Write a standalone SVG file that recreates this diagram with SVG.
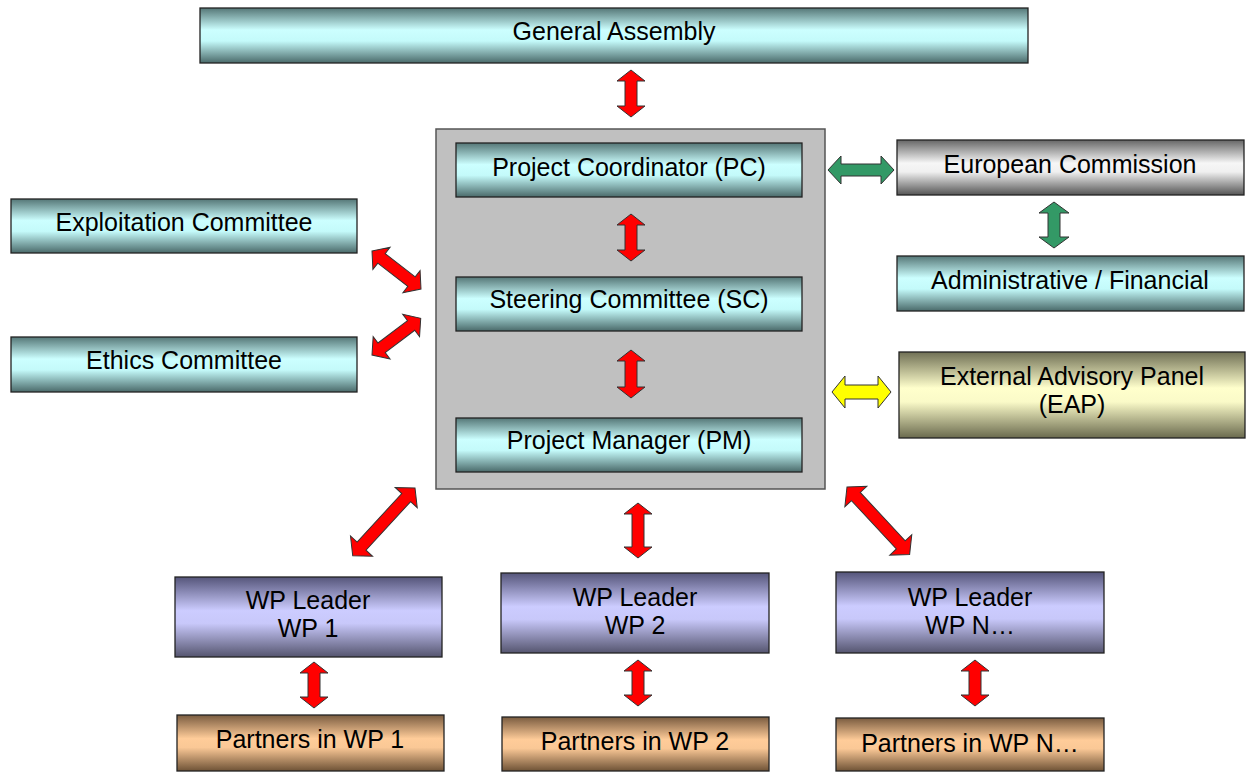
<svg xmlns="http://www.w3.org/2000/svg" width="1247" height="772" viewBox="0 0 1247 772">
<defs>
<linearGradient id="gCyan" x1="0" y1="0" x2="0" y2="1">
<stop offset="0" stop-color="#557777"/><stop offset="0.4" stop-color="#ccffff"/><stop offset="0.6" stop-color="#c4fafa"/><stop offset="1" stop-color="#4a6a6a"/>
</linearGradient>
<linearGradient id="gPurple" x1="0" y1="0" x2="0" y2="1">
<stop offset="0" stop-color="#55557a"/><stop offset="0.42" stop-color="#ccccff"/><stop offset="0.58" stop-color="#c8c8fa"/><stop offset="1" stop-color="#55556f"/>
</linearGradient>
<linearGradient id="gOrange" x1="0" y1="0" x2="0" y2="1">
<stop offset="0" stop-color="#7a5c40"/><stop offset="0.42" stop-color="#ffcc99"/><stop offset="0.58" stop-color="#fac896"/><stop offset="1" stop-color="#6e5236"/>
</linearGradient>
<linearGradient id="gOlive" x1="0" y1="0" x2="0" y2="1">
<stop offset="0" stop-color="#707055"/><stop offset="0.42" stop-color="#ffffcc"/><stop offset="0.58" stop-color="#fafac8"/><stop offset="1" stop-color="#6a6a4e"/>
</linearGradient>
<linearGradient id="gGray" x1="0" y1="0" x2="0" y2="1">
<stop offset="0" stop-color="#666666"/><stop offset="0.42" stop-color="#f6f6f6"/><stop offset="0.58" stop-color="#f0f0f0"/><stop offset="1" stop-color="#555555"/>
</linearGradient>
<style>
.box{stroke:#222;stroke-width:1.3}
.cyan{fill:url(#gCyan)}
.purple{fill:url(#gPurple)}
.orange{fill:url(#gOrange)}
.olive{fill:url(#gOlive)}
.gray{fill:url(#gGray)}
.panel{fill:#c0c0c0;stroke:#555;stroke-width:1.5}
text{font-family:"Liberation Sans",Arial,sans-serif;font-size:25px;fill:#000;text-anchor:middle}
.arr{stroke:#333;stroke-width:1}
.red{fill:#ff0000}
.green{fill:#339966}
.yellow{fill:#ffff00}
</style>
</defs>

<g id="general-assembly">
<rect class="box cyan" x="200" y="8" width="828" height="55"/>
<text x="614" y="40">General Assembly</text>
</g>

<g id="core-panel">
<rect class="panel" x="436" y="129" width="389" height="360"/>
</g>

<g id="project-coordinator">
<rect class="box cyan" x="456" y="143" width="346" height="54"/>
<text x="629" y="176">Project Coordinator (PC)</text>
</g>

<g id="steering-committee">
<rect class="box cyan" x="456" y="277" width="346" height="54"/>
<text x="629" y="308">Steering Committee (SC)</text>
</g>

<g id="project-manager">
<rect class="box cyan" x="456" y="418" width="346" height="54"/>
<text x="629" y="449">Project Manager (PM)</text>
</g>

<g id="exploitation-committee">
<rect class="box cyan" x="11" y="199" width="346" height="54"/>
<text x="184" y="231">Exploitation Committee</text>
</g>

<g id="ethics-committee">
<rect class="box cyan" x="11" y="337" width="346" height="55"/>
<text x="184" y="369">Ethics Committee</text>
</g>

<g id="european-commission">
<rect class="box gray" x="897" y="140" width="347" height="55"/>
<text x="1070" y="173">European Commission</text>
</g>

<g id="administrative-financial">
<rect class="box cyan" x="897" y="256" width="347" height="55"/>
<text x="1070" y="289">Administrative / Financial</text>
</g>

<g id="external-advisory-panel">
<rect class="box olive" x="899" y="352" width="346" height="86"/>
<text x="1072" y="385">External Advisory Panel</text>
<text x="1072" y="413">(EAP)</text>
</g>

<g id="wp-leader-1">
<rect class="box purple" x="175" y="577" width="267" height="80"/>
<text x="308" y="609">WP Leader</text>
<text x="308" y="637">WP 1</text>
</g>

<g id="wp-leader-2">
<rect class="box purple" x="501" y="573" width="268" height="80"/>
<text x="635" y="606">WP Leader</text>
<text x="635" y="634">WP 2</text>
</g>

<g id="wp-leader-n">
<rect class="box purple" x="836" y="572" width="268" height="81"/>
<text x="970" y="606">WP Leader</text>
<text x="970" y="634">WP N…</text>
</g>

<g id="partners-wp-1">
<rect class="box orange" x="177" y="715" width="267" height="56"/>
<text x="310" y="748">Partners in WP 1</text>
</g>

<g id="partners-wp-2">
<rect class="box orange" x="502" y="717" width="267" height="54"/>
<text x="635" y="750">Partners in WP 2</text>
</g>

<g id="partners-wp-n">
<rect class="box orange" x="836" y="718" width="268" height="53"/>
<text x="970" y="752">Partners in WP N…</text>
</g>

<g id="connectors">
<!-- GA - PC -->
<path class="arr red" transform="translate(631,70) rotate(90)" d="M0,0 L11,-14 L11,-6 L36,-6 L36,-14 L47,0 L36,14 L36,6 L11,6 L11,14 Z"/>
<!-- PC - SC -->
<path class="arr red" transform="translate(631,214) rotate(90)" d="M0,0 L11,-14 L11,-6 L36,-6 L36,-14 L47,0 L36,14 L36,6 L11,6 L11,14 Z"/>
<!-- SC - PM -->
<path class="arr red" transform="translate(631,350) rotate(90)" d="M0,0 L11,-14 L11,-6 L37,-6 L37,-14 L48,0 L37,14 L37,6 L11,6 L11,14 Z"/>
<!-- Exploitation -->
<path class="arr red" transform="translate(372,251) rotate(37.8)" d="M0,0 L12,-14 L12,-6 L50,-6 L50,-14 L62,0 L50,14 L50,6 L12,6 L12,14 Z"/>
<!-- Ethics -->
<path class="arr red" transform="translate(372,355) rotate(-37)" d="M0,0 L12,-14 L12,-6 L49,-6 L49,-14 L61,0 L49,14 L49,6 L12,6 L12,14 Z"/>
<!-- PM - WP1 -->
<path class="arr red" transform="translate(415,488) rotate(132.6)" d="M0,0 L13,-15 L13,-6 L79,-6 L79,-15 L92,0 L79,15 L79,6 L13,6 L13,15 Z"/>
<!-- PM - WP2 -->
<path class="arr red" transform="translate(638,503) rotate(90)" d="M0,0 L11,-14 L11,-6 L44,-6 L44,-14 L55,0 L44,14 L44,6 L11,6 L11,14 Z"/>
<!-- PM - WPN -->
<path class="arr red" transform="translate(847,487) rotate(47.1)" d="M0,0 L13,-15 L13,-6 L79,-6 L79,-15 L92,0 L79,15 L79,6 L13,6 L13,15 Z"/>
<!-- WP1 - Partners -->
<path class="arr red" transform="translate(314,662) rotate(90)" d="M0,0 L11,-14 L11,-6 L35,-6 L35,-14 L46,0 L35,14 L35,6 L11,6 L11,14 Z"/>
<!-- WP2 - Partners -->
<path class="arr red" transform="translate(638,660) rotate(90)" d="M0,0 L11,-14 L11,-6 L35,-6 L35,-14 L46,0 L35,14 L35,6 L11,6 L11,14 Z"/>
<!-- WPN - Partners -->
<path class="arr red" transform="translate(975,660) rotate(90)" d="M0,0 L11,-14 L11,-6 L35,-6 L35,-14 L46,0 L35,14 L35,6 L11,6 L11,14 Z"/>
<!-- PC - EC (green) -->
<path class="arr green" transform="translate(828,170)" d="M0,0 L13,-14 L13,-6 L53,-6 L53,-14 L66,0 L53,14 L53,6 L13,6 L13,14 Z"/>
<!-- EC - Admin (green) -->
<path class="arr green" transform="translate(1054,202) rotate(90)" d="M0,0 L11,-15 L11,-6 L35,-6 L35,-15 L46,0 L35,15 L35,6 L11,6 L11,15 Z"/>
<!-- EAP (yellow) -->
<path class="arr yellow" transform="translate(832,392)" d="M0,0 L13,-16 L13,-7 L46,-7 L46,-16 L59,0 L46,16 L46,7 L13,7 L13,16 Z"/>
</g>
</svg>
